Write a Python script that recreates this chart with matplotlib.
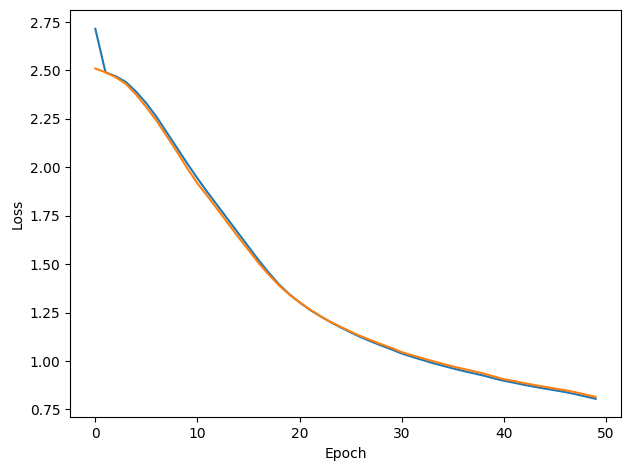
import matplotlib
matplotlib.use("Agg")
import matplotlib.pyplot as plt

epochs = list(range(50))
train_loss = [2.715, 2.49, 2.47, 2.44, 2.39, 2.33, 2.26, 2.18, 2.10, 2.02,
              1.943, 1.87, 1.80, 1.73, 1.66, 1.59, 1.52, 1.455, 1.395, 1.345,
              1.303, 1.265, 1.232, 1.202, 1.174, 1.148, 1.123, 1.101, 1.08, 1.06,
              1.039, 1.022, 1.006, 0.99, 0.976, 0.962, 0.949, 0.937, 0.925, 0.911,
              0.898, 0.888, 0.877, 0.867, 0.858, 0.849, 0.84, 0.829, 0.817, 0.805]
val_loss = [2.51, 2.49, 2.465, 2.43, 2.375, 2.31, 2.24, 2.16, 2.08, 1.995,
            1.917, 1.85, 1.78, 1.71, 1.64, 1.573, 1.505, 1.445, 1.39, 1.343,
            1.303, 1.267, 1.233, 1.203, 1.177, 1.152, 1.128, 1.107, 1.087, 1.068,
            1.046, 1.03, 1.015, 1.0, 0.986, 0.972, 0.96, 0.948, 0.936, 0.921,
            0.906, 0.897, 0.886, 0.876, 0.867, 0.858, 0.849, 0.839, 0.827, 0.815]

fig, ax = plt.subplots(figsize=(6.3, 4.7), dpi=100)
ax.plot(epochs, train_loss)
ax.plot(epochs, val_loss)
ax.set_xlabel("Epoch")
ax.set_ylabel("Loss")
fig.subplots_adjust(left=70.3 / 630, right=620.7 / 630,
                    top=1 - 10.3 / 470, bottom=1 - 417.3 / 470)
fig.savefig("out.png")
